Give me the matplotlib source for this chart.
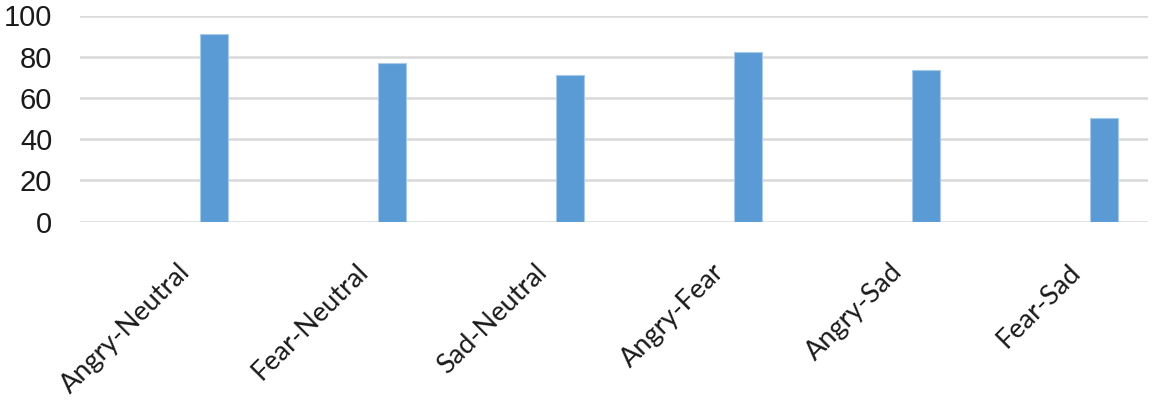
import numpy as np
import matplotlib
matplotlib.use('Agg')
import matplotlib.pyplot as plt

# Data
categories = ['Angry-Neutral', 'Fear-Neutral', 'Sad-Neutral',
              'Angry-Fear', 'Angry-Sad', 'Fear-Sad']
values = [91.0, 76.8, 71.2, 82.5, 73.8, 50.2]
y_ticks = [0, 20, 40, 60, 80, 100]

fig = plt.figure(figsize=(11.52, 4.09), dpi=100)
ax = fig.add_axes([80 / 1152, 1 - 221.7 / 409, 1068 / 1152, 206.2 / 409])

x = np.arange(len(categories))
bar_offset = 0.253   # bars sit right of the category centre
bar_w = 0.157
ax.bar(x + bar_offset, values, width=bar_w, color='#5b9bd5',
       edgecolor='#a9c9ea', linewidth=0.8, zorder=3)

ax.set_xlim(-0.5, len(categories) - 0.5)
ax.set_ylim(0, 100)
ax.set_yticks(y_ticks)
ax.grid(axis='y', color='#d9d9d9', linewidth=1.8, zorder=0)
ax.set_axisbelow(True)
for s in ax.spines.values():
    s.set_visible(False)

ax.tick_params(axis='y', length=0, pad=20, labelsize=21, labelcolor='#1a1a1a')
for lab in ax.get_yticklabels():
    lab.set_fontfamily('Liberation Sans')

ax.set_xticks(x + 0.05)
ax.set_xticklabels(categories, rotation=45, ha='right', va='top',
                   rotation_mode='anchor', fontfamily='Lato', fontsize=19.5,
                   color='#1a1a1a')
ax.tick_params(axis='x', length=0, pad=27)

fig.savefig('out.png', dpi=100)
